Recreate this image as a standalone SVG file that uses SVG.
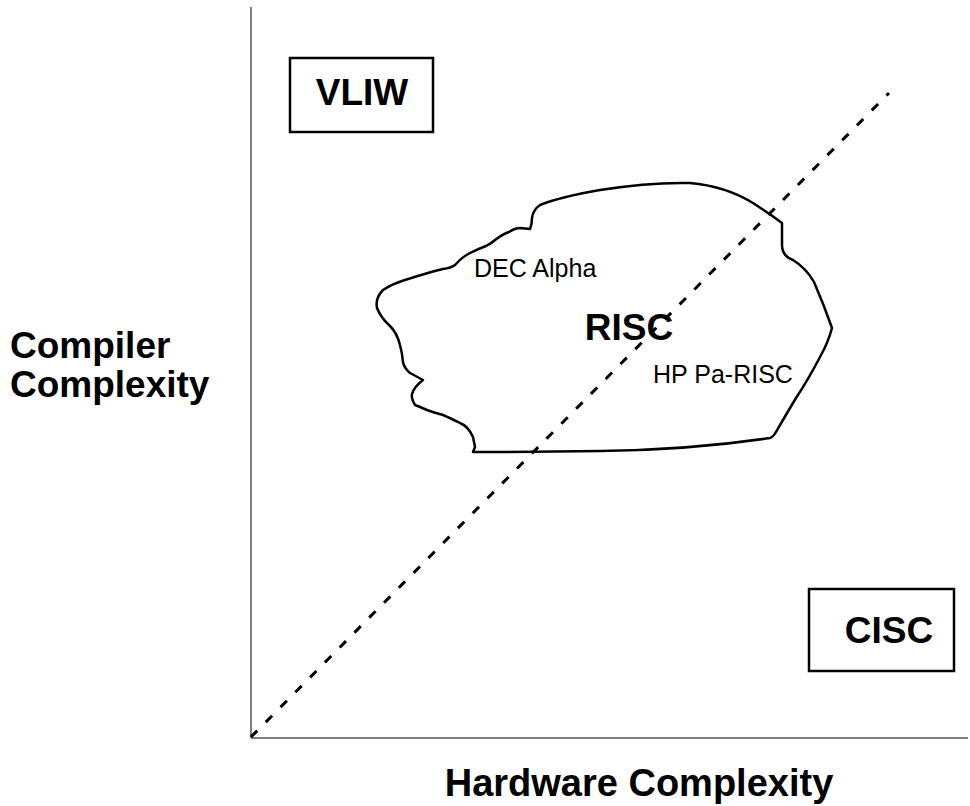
<svg xmlns="http://www.w3.org/2000/svg" width="970" height="806" viewBox="0 0 970 806">
<style>
.axis{stroke:#555;stroke-width:1.5;fill:none}
.box{fill:#fff;stroke:#000;stroke-width:2.5}
.big{font-family:"Liberation Sans",Arial,sans-serif;font-weight:bold;font-size:37px;fill:#000}
.small{font-family:"Liberation Sans",Arial,sans-serif;font-size:25px;fill:#000}
.blob{fill:none;stroke:#000;stroke-width:2.5;stroke-linejoin:round}
.dash{stroke:#000;stroke-width:3;stroke-dasharray:9 12;fill:none}
</style>
<rect width="970" height="806" fill="#fff"/>
<g id="axes">
<line class="axis" x1="251" y1="7" x2="251" y2="738"/>
<line class="axis" x1="251" y1="738" x2="968" y2="738"/>
</g>
<g id="risc">
<path class="blob" d="M473,452 L475,447 L473,437 Q468,426 460,423 Q450,418 443,415 Q432,412 427,410 Q418,406 415,405 Q411,398 412,394 Q414,387 423,380 Q412,374 410,373 Q404,368 403,362 Q402,352 400,345 Q397,333 390,326 Q381,318 377,308 Q375,298 383,290 Q392,284 405,280 Q430,272 443,269 Q451,268 455,265 Q462,257 470,253 Q478,249 486,246 Q492,243 495,240 Q503,234 509,232 Q515,228 520,228 L530,229 Q532,224 532,218 Q533,210 540,205 Q560,197 600,190 Q650,182 690,183 Q725,186 753,203 L771,215 L782,223 Q782,232 782,245 Q782,256 793,260 Q806,268 814,282 Q824,305 832,328 Q828,343 820,357 Q808,380 796,398 Q784,418 776,432 Q773,437 770,438 Q690,450 600,451 Q540,452 473,452 Z"/>
<text class="big" x="629" y="340" text-anchor="middle">RISC</text>
<text class="small" x="474" y="277">DEC Alpha</text>
<text class="small" x="653" y="383">HP Pa-RISC</text>
</g>
<g id="connectors">
<line class="dash" x1="251" y1="737" x2="889" y2="93"/>
</g>
<g id="vliw">
<rect class="box" x="290" y="58" width="143" height="74"/>
<text class="big" x="362" y="105" text-anchor="middle">VLIW</text>
</g>
<g id="cisc">
<rect class="box" x="809" y="589" width="145" height="82"/>
<text class="big" x="889" y="643" text-anchor="middle">CISC</text>
</g>
<g id="labels">
<text class="big" x="10" y="358">Compiler</text>
<text class="big" x="10" y="397">Complexity</text>
<text class="big" x="639" y="796" text-anchor="middle" style="font-size:38px">Hardware Complexity</text>
</g>
</svg>
